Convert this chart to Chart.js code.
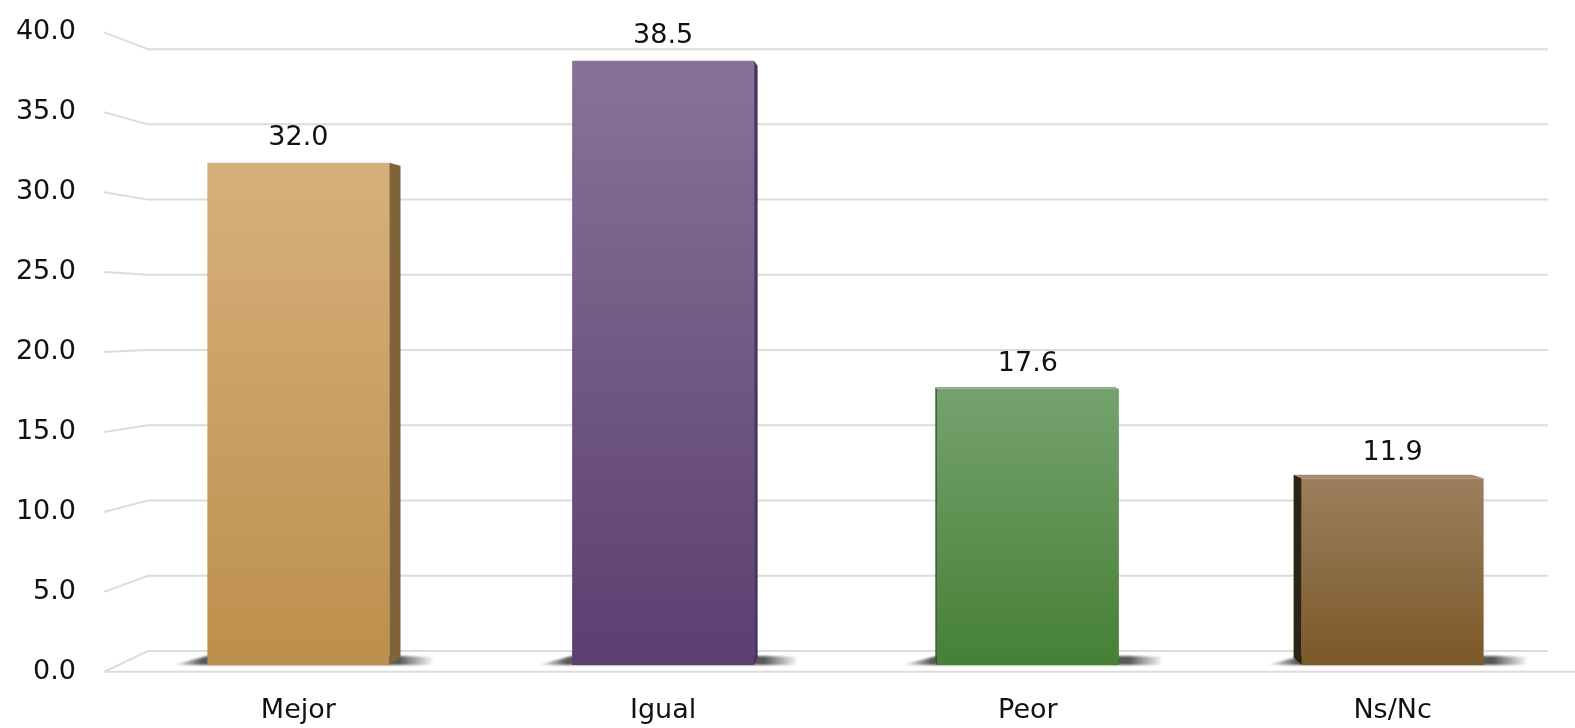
<!DOCTYPE html>
<html>
<head>
<meta charset="utf-8">
<script src="https://cdn.jsdelivr.net/npm/chart.js@4/dist/chart.umd.min.js"></script>
<style>
  html, body { margin: 0; padding: 0; background: #fff; }
  canvas { display: block; }
</style>
</head>
<body>
<canvas id="myChart" width="1575" height="728"></canvas>
<script>
// data
var categories = ['Mejor', 'Igual', 'Peor', 'Ns/Nc'];
var values = [32.0, 38.5, 17.6, 11.9];
var yTicks = [0, 5, 10, 15, 20, 25, 30, 35, 40];

// colours of each bar: front top, front bottom, side face, top face
var frontTop = ['#d6b07b', '#877399', '#75a26f', '#9c7f5f'];
var frontBottom = ['#bd8f4c', '#5c3e70', '#468035', '#7b5827'];
var sideColors = ['#806339', '#4a3160', '#2c4a24', '#2e2414'];
var topColors = ['#dcbb8a', '#9382a2', '#86ae80', '#a58b6d'];

var FONT = 'DejaVu Sans';
var GRID = '#dcdcdc';

// vanishing point for the fake 3d side faces
var vx = 920, vy = 311, depthK = 0.021;

function toward(px, py) {
    return [px + (vx - px) * depthK, py + (vy - py) * depthK];
}

var depthPlugin = {
    id: 'depth',
    beforeDatasetsDraw: function(chart) {
        var ctx = chart.ctx;
        var area = chart.chartArea;
        var yF = chart.scales.y;
        var yB = chart.scales.yBack;
        var frontLeft = area.left - 12;
        var backLeft = frontLeft + 44;
        var backRight = area.right - 27;
        ctx.save();
        ctx.strokeStyle = GRID;
        ctx.lineWidth = 2;
        yTicks.forEach(function(v, i) {
            var f = yF.getPixelForValue(v);
            var b = yB.getPixelForValue(v);
            ctx.beginPath();
            ctx.moveTo(frontLeft, f);
            ctx.lineTo(backLeft, b);
            ctx.lineTo(backRight, b);
            ctx.stroke();
            if (i === 0) {
                ctx.beginPath();
                ctx.moveTo(frontLeft, f);
                ctx.lineTo(area.right, f);
                ctx.stroke();
            }
        });
        // floor shadows
        var meta = chart.getDatasetMeta(0);
        meta.data.forEach(function(bar) {
            var left = bar.x - bar.width / 2;
            var right = bar.x + bar.width / 2;
            var base = bar.base;
            var w = bar.width + 80;
            var g = ctx.createLinearGradient(left - 35, 0, right + 45, 0);
            g.addColorStop(0, 'rgba(80,80,80,0)');
            g.addColorStop(30 / w, 'rgba(70,70,70,0.9)');
            g.addColorStop((bar.width + 45) / w, 'rgba(70,70,70,0.9)');
            g.addColorStop(1, 'rgba(80,80,80,0)');
            ctx.fillStyle = g;
            ctx.filter = 'blur(1px)';
            ctx.beginPath();
            ctx.moveTo(left - 35, base);
            ctx.lineTo(left, base - 9);
            ctx.lineTo(right + 10, base - 9);
            ctx.lineTo(right + 45, base - 8);
            ctx.lineTo(right + 40, base);
            ctx.closePath();
            ctx.fill();
            ctx.filter = 'none';
        });
        ctx.restore();
    },
    afterDatasetsDraw: function(chart) {
        var ctx = chart.ctx;
        var meta = chart.getDatasetMeta(0);
        ctx.save();
        meta.data.forEach(function(bar, i) {
            var left = bar.x - bar.width / 2;
            var right = bar.x + bar.width / 2;
            var top = bar.y;
            var base = bar.base;
            var edge = right < vx ? right : left;
            var t = toward(edge, top);
            var b = toward(edge, base);
            if (Math.abs(t[0] - edge) < 1.5) {
                var s = right < vx ? 1.5 : -1.5;
                t[0] = edge + s;
                b[0] = edge + s;
            }
            ctx.fillStyle = sideColors[i];
            ctx.beginPath();
            ctx.moveTo(edge, top);
            ctx.lineTo(t[0], t[1]);
            ctx.lineTo(b[0], b[1]);
            ctx.lineTo(edge, base);
            ctx.closePath();
            ctx.fill();
            if (top > vy) {
                var tl = toward(left, top);
                var tr = toward(right, top);
                ctx.fillStyle = topColors[i];
                ctx.beginPath();
                ctx.moveTo(left, top);
                ctx.lineTo(right, top);
                ctx.lineTo(tr[0], tr[1]);
                ctx.lineTo(tl[0], tl[1]);
                ctx.closePath();
                ctx.fill();
            }
            ctx.fillStyle = '#111';
            ctx.font = '27px "' + FONT + '"';
            ctx.textAlign = 'center';
            ctx.textBaseline = 'alphabetic';
            ctx.fillText(values[i].toFixed(1), bar.x, top - 18);
        });
        ctx.restore();
    }
};

var ctx = document.getElementById('myChart');

// the chart area ends up at y 50..674 with this layout; the axis ranges
// below put the front edge (0..40) and the back wall where the picture has them
var myChart = new Chart(ctx, {
    type: 'bar',
    data: {
        labels: categories,
        datasets: [{
            data: values,
            yAxisID: 'yBar',
            borderWidth: 0,
            categoryPercentage: 1,
            barPercentage: 0.499,
            backgroundColor: function(c) {
                var chart = c.chart;
                if (!chart.chartArea) return frontBottom[c.dataIndex];
                var ys = chart.scales.yBar;
                var g = chart.ctx.createLinearGradient(0, ys.getPixelForValue(c.raw), 0, ys.getPixelForValue(0));
                g.addColorStop(0, frontTop[c.dataIndex]);
                g.addColorStop(1, frontBottom[c.dataIndex]);
                return g;
            }
        }]
    },
    options: {
        responsive: false,
        animation: false,
        layout: { autoPadding: false, padding: 0 },
        plugins: {
            legend: { display: false },
            tooltip: { enabled: false }
        },
        scales: {
            x: {
                grid: { display: false, drawTicks: false },
                border: { display: false },
                ticks: {
                    color: '#111',
                    padding: 23,
                    font: { family: FONT, size: 27 }
                },
                afterFit: function(scale) { scale.height = 54; }
            },
            y: {
                position: 'left',
                min: 0,
                max: 38.506,
                grid: { display: false, drawTicks: false },
                border: { display: false },
                ticks: {
                    color: '#111',
                    padding: 40,
                    font: { family: FONT, size: 27 },
                    callback: function(v) { return Number(v).toFixed(1); }
                },
                afterBuildTicks: function(scale) {
                    scale.ticks = yTicks.map(function(v) { return { value: v }; });
                },
                afterFit: function(scale) { scale.width = 116; }
            },
            yBar: {
                type: 'linear',
                display: false,
                min: -0.44,
                max: 38.79
            },
            yBack: {
                type: 'linear',
                display: false,
                min: -1.377,
                max: 39.53
            }
        }
    },
    plugins: [depthPlugin]
});
</script>
</body>
</html>
